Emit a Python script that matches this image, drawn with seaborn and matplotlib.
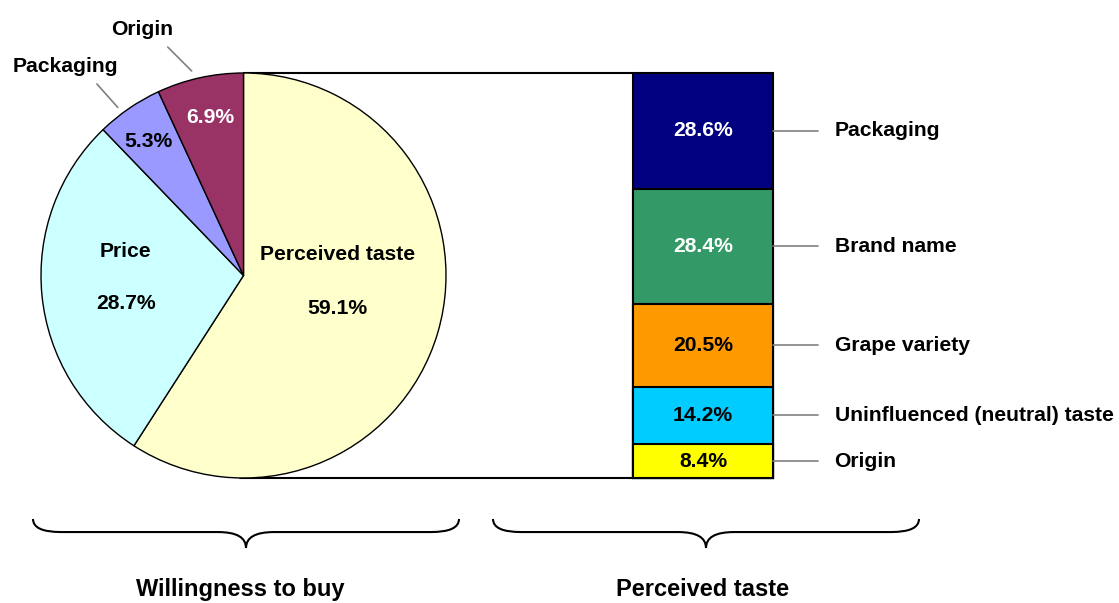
import numpy as np
import pandas as pd
import matplotlib
matplotlib.use('Agg')
import matplotlib.pyplot as plt
from matplotlib.path import Path
from matplotlib.patches import PathPatch
import seaborn as sns

## Data
buy_factors   = ['Perceived taste', 'Price', 'Packaging', 'Origin']
buy_shares    = [59.1, 28.7, 5.3, 6.9]
taste_factors = ['Origin', 'Uninfluenced (neutral) taste', 'Grape variety', 'Brand name', 'Packaging']
taste_shares  = [8.4, 14.2, 20.5, 28.4, 28.6]
group_titles  = ['Willingness to buy', 'Perceived taste']

## Styles
buy_colors    = ['#FFFFCC', '#CCFFFF', '#9999FF', '#993366']
taste_colors  = ['#FFFF00', '#00CCFF', '#FF9900', '#339966', '#000080']
taste_txtcol  = ['black', 'black', 'black', 'white', 'white']
fs            = 15.2

sns.set_theme(style='white')
plt.rcParams['font.family'] = ['Liberation Sans', 'DejaVu Sans']
plt.rcParams['font.weight'] = 'bold'
plt.rcParams['text.color'] = 'black'

W, H = 1119, 603
fig = plt.figure(figsize=(W/100, H/100), dpi=100)

## overlay axes in pixel coordinates (connectors, braces, titles)
ov = fig.add_axes([0, 0, 1, 1])
ov.set_xlim(0, W)
ov.set_ylim(H, 0)
ov.axis('off')

## Pie
cx, cy, r = 243.5, 275.5, 202.5
ax_pie = fig.add_axes([(cx-r)/W, (H-cy-r)/H, 2*r/W, 2*r/H])
wedges, _ = ax_pie.pie(buy_shares, colors=buy_colors, startangle=90, counterclock=False,
                       wedgeprops=dict(edgecolor='black', linewidth=1.0))
ax_pie.set_xlim(-1, 1)
ax_pie.set_ylim(-1, 1)
ax_pie.set_aspect('equal')
ax_pie.axis('off')
for w in wedges:
    w.set_clip_on(False)

pct = ['%.1f%%' % v for v in buy_shares]
ax_pie.text(0.463, 0.103, buy_factors[0], ha='center', va='center', fontsize=fs, fontweight='bold')
ax_pie.text(0.463, -0.163, pct[0], ha='center', va='center', fontsize=fs, fontweight='bold')
ax_pie.text(-0.581, 0.118, buy_factors[1], ha='center', va='center', fontsize=fs, fontweight='bold')
ax_pie.text(-0.581, -0.138, pct[1], ha='center', va='center', fontsize=fs, fontweight='bold')
ax_pie.text(-0.468, 0.66, pct[2], ha='center', va='center', fontsize=fs, fontweight='bold', color='black')
ax_pie.text(-0.163, 0.778, pct[3], ha='center', va='center', fontsize=fs, fontweight='bold', color='white')
# outside labels with leader lines
ax_pie.text(-0.877, 1.03, buy_factors[2], ha='center', va='center', fontsize=fs, fontweight='bold', clip_on=False)
ax_pie.plot([-0.724, -0.621], [0.946, 0.83], color='#808080', lw=1.2, clip_on=False)
ax_pie.text(-0.5, 1.217, buy_factors[3], ha='center', va='center', fontsize=fs, fontweight='bold', clip_on=False)
ax_pie.plot([-0.374, -0.256], [1.128, 1.01], color='#808080', lw=1.2, clip_on=False)

## Stacked bar
bx0, bx1 = 633, 773
ax_bar = fig.add_axes([bx0/W, (H-cy-r)/H, (bx1-bx0)/W, 2*r/H])
cum = np.cumsum(taste_shares)
for i in range(len(taste_shares)-1, -1, -1):
    sns.barplot(x=['all'], y=[cum[i]], color=taste_colors[i], edgecolor='black',
                linewidth=1.5, width=1, saturation=1, ax=ax_bar)
ax_bar.set_xlim(-0.5, 0.5)
ax_bar.set_ylim(0, cum[-1])
ax_bar.axis('off')
for p in ax_bar.patches:
    p.set_clip_on(False)

tr = ax_bar.get_yaxis_transform()
for i in range(len(taste_shares)):
    mid = cum[i] - taste_shares[i]/2
    ax_bar.text(0, mid, '%.1f%%' % taste_shares[i], ha='center', va='center',
                fontsize=fs, fontweight='bold', color=taste_txtcol[i])
    ax_bar.plot([1.0, 1.321], [mid, mid], color='#808080', lw=1.2, transform=tr, clip_on=False)
    ax_bar.text(1.44, mid, taste_factors[i], ha='left', va='center', fontsize=fs,
                fontweight='bold', transform=tr, clip_on=False)

## connectors between pie and bar
ov.plot([cx, bx0], [cy-r, cy-r], color='black', lw=1.5)
ov.plot([cx-4, bx0], [cy+r, cy+r], color='black', lw=1.5)

## braces
def brace(ax, x0, x1, top, h, rr):
    xm = (x0+x1)/2
    ym = top + h*0.45
    verts = [(x0, top), (x0, ym), (x0+rr, ym), (xm-rr, ym), (xm, ym), (xm, top+h),
             (xm, ym), (xm+rr, ym), (x1-rr, ym), (x1, ym), (x1, top)]
    codes = [Path.MOVETO, Path.CURVE3, Path.CURVE3, Path.LINETO, Path.CURVE3, Path.CURVE3,
             Path.CURVE3, Path.CURVE3, Path.LINETO, Path.CURVE3, Path.CURVE3]
    ax.add_patch(PathPatch(Path(verts, codes), fill=False, edgecolor='black', lw=1.5))

brace(ov, 33, 459, 519, 29, 28)
brace(ov, 493, 919, 519, 29, 28)
ov.text(240, 601, group_titles[0], ha='center', va='bottom', fontsize=17, fontweight='bold')
ov.text(703, 601, group_titles[1], ha='center', va='bottom', fontsize=17, fontweight='bold')

fig.savefig('out.png', dpi=100)
